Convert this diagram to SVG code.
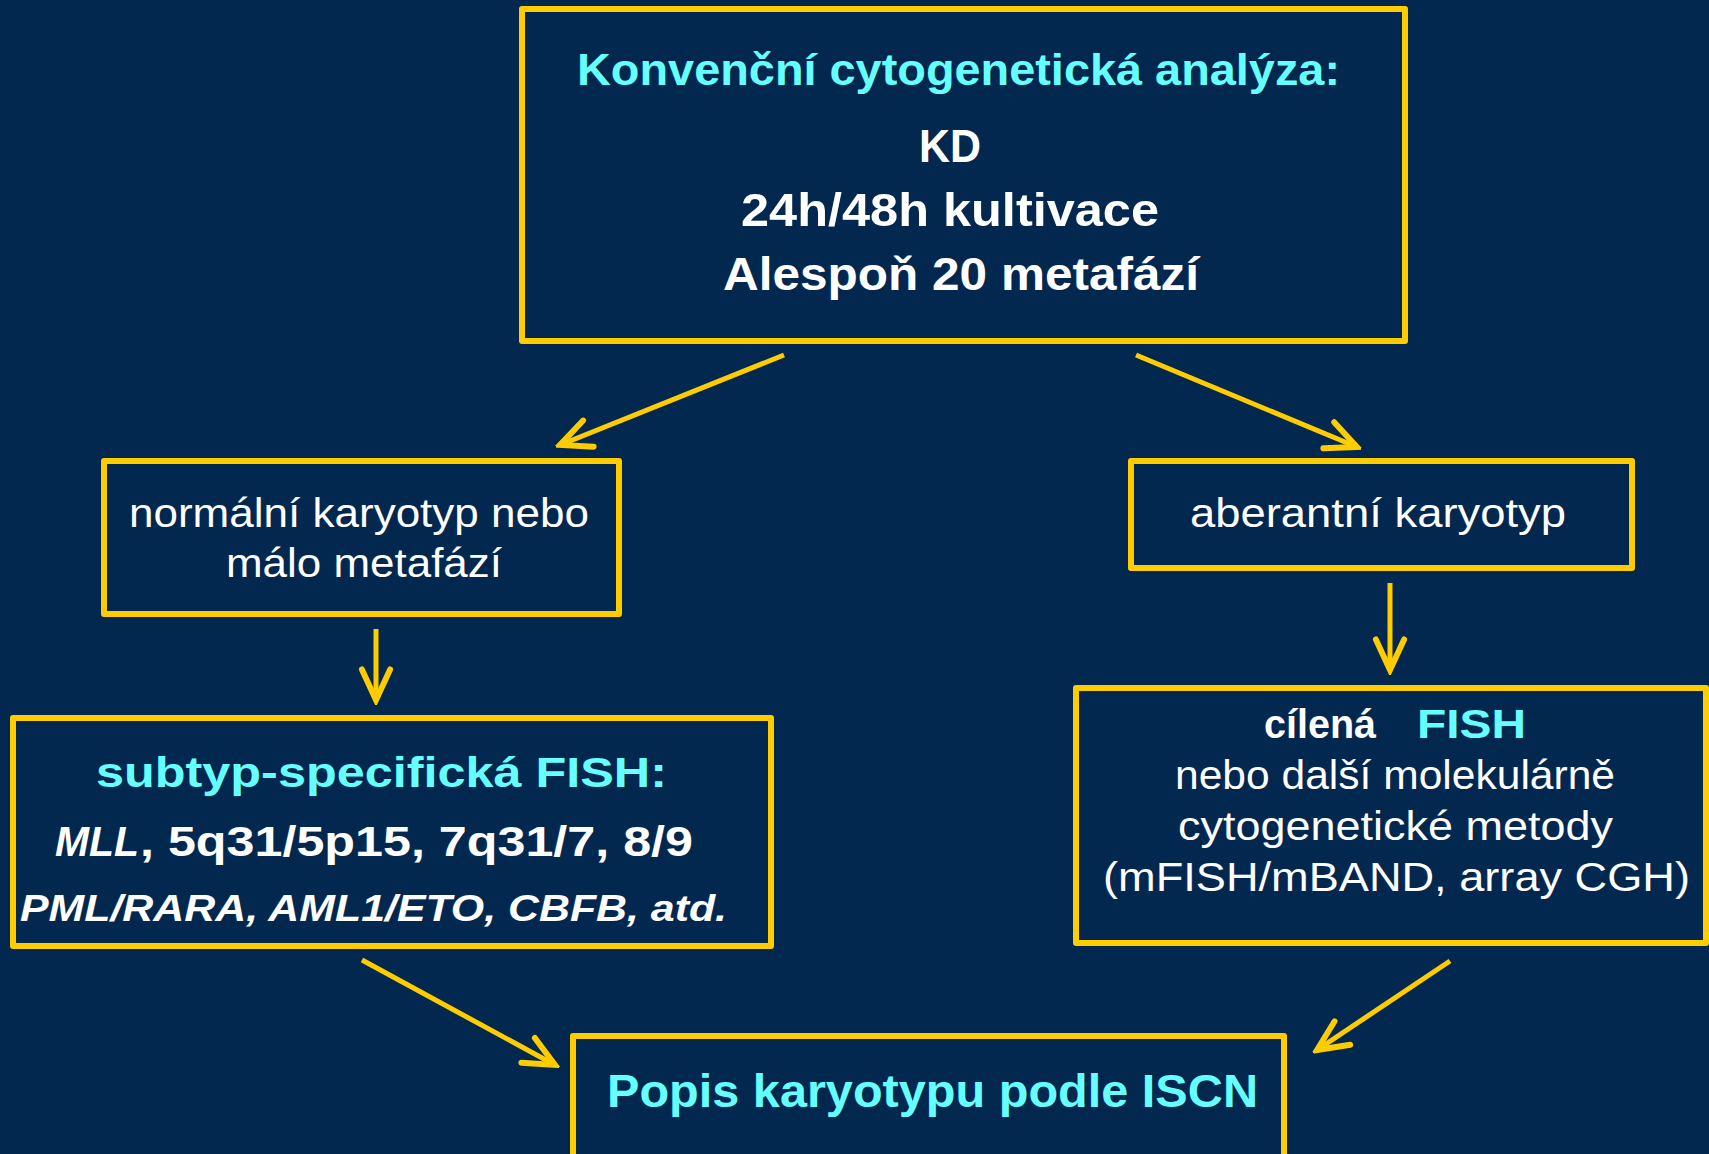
<svg xmlns="http://www.w3.org/2000/svg" width="1709" height="1154" viewBox="0 0 1709 1154">
<defs>
<style>
.box{fill:none;stroke:#FFCC00;stroke-width:6;stroke-linejoin:round}
.t{font-family:"Liberation Sans",Arial,sans-serif;fill:#FFFFFF}
.b{font-weight:bold}
.i{font-style:italic}
.c{fill:#66FFFF}
.con{stroke:#FFCC00;stroke-width:5;fill:none}
</style>
<marker id="ah" markerUnits="userSpaceOnUse" markerWidth="40" markerHeight="40" viewBox="-30 -15 34 30" refX="0" refY="0" orient="auto">
<polyline points="-26,-12 0,0 -26,12" fill="none" stroke="#FFCC00" stroke-width="5" stroke-linecap="round" stroke-linejoin="miter"/>
</marker>
</defs>
<rect width="1709" height="1154" fill="#03284F"/>
<g id="connectors">
<line class="con" x1="784" y1="355" x2="560" y2="445" marker-end="url(#ah)"/>
<line class="con" x1="1136" y1="355" x2="1357" y2="447" marker-end="url(#ah)"/>
<line class="con" x1="376" y1="629" x2="376" y2="700" marker-end="url(#ah)"/>
<line class="con" x1="1390" y1="583" x2="1390" y2="670" marker-end="url(#ah)"/>
<line class="con" x1="362" y1="960" x2="555" y2="1065" marker-end="url(#ah)"/>
<line class="con" x1="1450" y1="961" x2="1317" y2="1050" marker-end="url(#ah)"/>
</g>
<g id="node-top">
<rect class="box" x="522" y="9" width="883" height="332"/>
<text class="t b c" x="577" y="85" font-size="44" textLength="763" lengthAdjust="spacingAndGlyphs">Konvenční cytogenetická analýza:</text>
<text class="t b" x="919" y="162" font-size="46" textLength="62" lengthAdjust="spacingAndGlyphs">KD</text>
<text class="t b" x="741" y="226" font-size="46" textLength="418" lengthAdjust="spacingAndGlyphs">24h/48h kultivace</text>
<text class="t b" x="723" y="290" font-size="46" textLength="476" lengthAdjust="spacingAndGlyphs">Alespoň 20 metafází</text>
</g>
<g id="node-normal">
<rect class="box" x="104" y="461" width="515" height="153"/>
<text class="t" x="129" y="527" font-size="40" textLength="460" lengthAdjust="spacingAndGlyphs">normální karyotyp nebo</text>
<text class="t" x="226" y="577" font-size="40" textLength="276" lengthAdjust="spacingAndGlyphs">málo metafází</text>
</g>
<g id="node-aberant">
<rect class="box" x="1131" y="461" width="501" height="107"/>
<text class="t" x="1190" y="527" font-size="40" textLength="376" lengthAdjust="spacingAndGlyphs">aberantní karyotyp</text>
</g>
<g id="node-subtyp">
<rect class="box" x="13" y="718" width="758" height="228"/>
<text class="t b c" x="96" y="787" font-size="42" textLength="571" lengthAdjust="spacingAndGlyphs">subtyp-specifická FISH:</text>
<text class="t b" y="856" font-size="42"><tspan class="i" x="55" textLength="84" lengthAdjust="spacingAndGlyphs">MLL</tspan><tspan x="140" textLength="553" lengthAdjust="spacingAndGlyphs">, 5q31/5p15, 7q31/7, 8/9</tspan></text>
<text class="t b i" x="20" y="921" font-size="37" textLength="707" lengthAdjust="spacingAndGlyphs">PML/RARA, AML1/ETO, CBFB, atd.</text>
</g>
<g id="node-cilena">
<rect class="box" x="1076" y="688" width="630" height="255"/>
<text class="t b" y="738" font-size="40"><tspan x="1264" textLength="112" lengthAdjust="spacingAndGlyphs">cílená</tspan><tspan class="c" x="1417" textLength="109" lengthAdjust="spacingAndGlyphs">FISH</tspan></text>
<text class="t" x="1175" y="789" font-size="40" textLength="440" lengthAdjust="spacingAndGlyphs">nebo další molekulárně</text>
<text class="t" x="1178" y="840" font-size="40" textLength="435" lengthAdjust="spacingAndGlyphs">cytogenetické metody</text>
<text class="t" x="1103" y="891" font-size="40" textLength="587" lengthAdjust="spacingAndGlyphs">(mFISH/mBAND, array CGH)</text>
</g>
<g id="node-iscn">
<rect class="box" x="573" y="1036" width="711" height="140"/>
<text class="t b c" x="607" y="1107" font-size="46" textLength="651" lengthAdjust="spacingAndGlyphs">Popis karyotypu podle ISCN</text>
</g>
</svg>
